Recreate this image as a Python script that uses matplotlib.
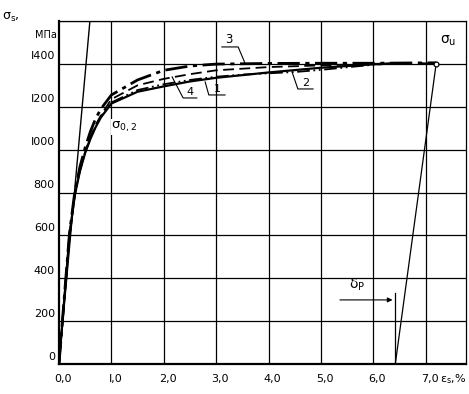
import matplotlib
matplotlib.use("Agg")
import matplotlib.pyplot as plt

# Диаграмма деформирования (σ_s - ε_s), кривые 1-4
x_common = [0, 0.1, 0.2, 0.3, 0.4, 0.5, 0.6, 0.7, 0.8, 1.0]

x3 = x_common + [1.5, 2.0, 2.5, 3.0, 4.0, 5.0, 6.0, 7.2]
y3 = [0, 310, 610, 800, 920, 1010, 1085, 1145, 1190, 1255,
      1325, 1370, 1390, 1399, 1402, 1403, 1403, 1405]

x4 = x_common + [1.5, 2.0, 2.5, 3.0, 4.0, 5.0, 6.0, 6.4]
y4 = [0, 300, 600, 790, 905, 990, 1060, 1115, 1160, 1235,
      1300, 1330, 1352, 1370, 1385, 1393, 1400, 1402]

x1 = x_common + [1.5, 2.0, 2.5, 3.0, 4.0, 5.0, 6.0, 6.4]
y1 = [0, 300, 600, 785, 900, 985, 1050, 1105, 1150, 1215,
      1270, 1295, 1318, 1335, 1360, 1382, 1398, 1402]

x2 = x_common + [1.5, 2.0, 2.5, 3.0, 3.5, 4.0, 4.5, 5.0, 5.5, 6.0, 6.4]
y2 = [0, 300, 600, 788, 902, 988, 1055, 1110, 1155, 1220,
      1278, 1305, 1325, 1340, 1350, 1356, 1362, 1372, 1384, 1396, 1402]

# упругая прямая и разгрузка
x_el = [0, 0.59]
y_el = [0, 1600]
eps_u, sig_u = 7.2, 1400
eps_p = 6.42

xt = [0, 1, 2, 3, 4, 5, 6, 7]
xt_lab = ["0,0", "I,0", "2,0", "3,0", "4,0", "5,0", "6,0", "7,0"]
yt = [0, 200, 400, 600, 800, 1000, 1200, 1400]
yt_lab = ["0", "200", "400", "600", "800", "I000", "I200", "I400"]

fig = plt.figure(figsize=(4.69, 3.94), dpi=100)
ax = fig.add_axes([0.1258, 0.0761, 0.8678, 0.8706])
ax.set_xlim(0, 7.77)
ax.set_ylim(0, 1600)

# сетка
for v in xt[1:]:
    ax.axvline(v, color="black", lw=0.9, zorder=1)
for v in yt[1:] + [1600]:
    ax.axhline(v, color="black", lw=0.9, zorder=1)
for s in ax.spines.values():
    s.set_color("black")
ax.spines["left"].set_linewidth(1.6)
ax.spines["bottom"].set_linewidth(1.6)
ax.spines["top"].set_linewidth(0.9)
ax.spines["right"].set_linewidth(0.9)
ax.set_xticks([])
ax.set_yticks([])

ax.plot(x_el, y_el, color="black", lw=1.0, zorder=2)
ax.plot(x1, y1, color="black", lw=1.6, ls="-", zorder=3)
ax.plot(x4, y4, color="black", lw=1.3, ls=(0, (6, 3)), zorder=3)
ax.plot(x2, y2, color="black", lw=1.3, ls=(0, (7, 2, 1, 2, 1, 2)), zorder=3)
ax.plot(x3, y3, color="black", lw=2.0, ls=(0, (8, 2, 1.5, 2)), zorder=4)
ax.plot([eps_u - 0.3, eps_u], [1403, sig_u], color="black", lw=1.4, zorder=4)
ax.plot([eps_u], [sig_u], marker="o", ms=3.5, mfc="white", mec="black",
        mew=0.9, zorder=5)

ax.plot([eps_p, eps_u], [0, sig_u], color="black", lw=0.9, zorder=2)
ax.plot([eps_p, eps_p], [0, 330], color="black", lw=0.9, zorder=2)
ax.annotate("", xy=(eps_p, 299), xytext=(5.31, 299),
            arrowprops=dict(arrowstyle="-|>", color="black", lw=0.8,
                            mutation_scale=7))
ax.text(5.69, 331, "δ$_\\mathregular{P}$", fontsize=10, ha="center", va="bottom")

# выноски
lead = dict(color="black", lw=0.8, zorder=5)
ax.plot([3.11, 3.42, 3.55], [1479, 1479, 1404], **lead)
ax.text(3.25, 1485, "3", fontsize=8.5, ha="center", va="bottom")
ax.plot([2.16, 2.37, 2.63], [1339, 1241, 1241], **lead)
ax.text(2.5, 1245, "4", fontsize=8, ha="center", va="bottom")
ax.plot([2.79, 2.86, 3.17], [1316, 1255, 1255], **lead)
ax.text(3.02, 1259, "1", fontsize=8, ha="center", va="bottom")
ax.plot([4.45, 4.56, 4.85], [1362, 1283, 1283], **lead)
ax.text(4.7, 1287, "2", fontsize=8, ha="center", va="bottom")

ax.text(7.42, 1475, "σ$_\\mathregular{u}$", fontsize=10, ha="center", va="bottom")
ax.text(1.0, 1105, "σ$_\\mathregular{0,2}$", fontsize=9.5, ha="left", va="center",
        bbox=dict(fc="white", ec="none", pad=0.5), zorder=6)

# подписи осей
for v, lab in zip(yt, yt_lab):
    ax.text(-0.08, v + 35, lab, fontsize=8, ha="right", va="center",
            clip_on=False)
for v, lab in zip(xt, xt_lab):
    ax.text(v + 0.08, -70, lab, fontsize=8, ha="center", va="center",
            clip_on=False)
ax.text(7.27, -70, "ε$_\\mathregular{s}$,%", fontsize=8, ha="left", va="center",
        clip_on=False)
fig.text(0.005, 0.955, "σ$_\\mathregular{s}$,", fontsize=9, ha="left", va="center")
fig.text(0.075, 0.91, "МПа", fontsize=7, ha="left", va="center")

fig.savefig("out.png", dpi=100)
